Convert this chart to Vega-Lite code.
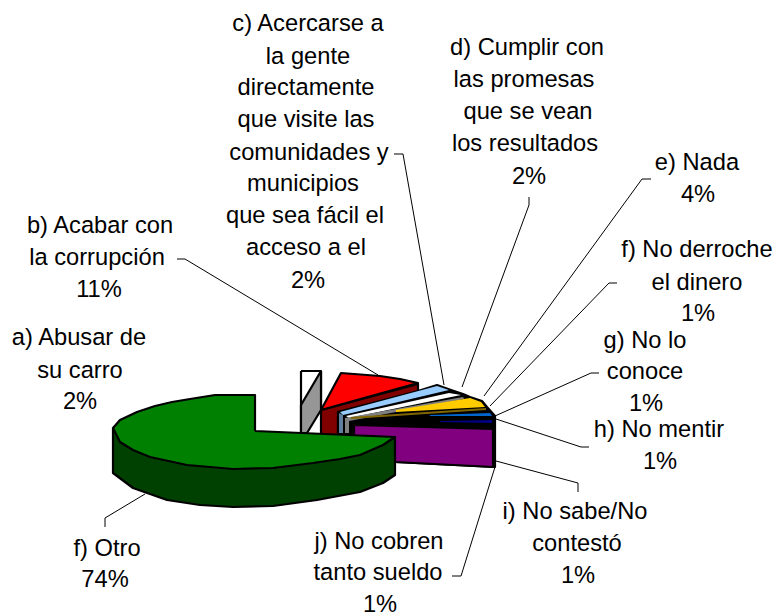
{
"$schema":"https://vega.github.io/schema/vega-lite/v6.json",
"width":777,"height":613,"padding":0,"autosize":{"type":"none"},
"background":"white","view":{"stroke":null},
"datasets":{
"leaders":[
{"id":"b","i":1,"x":177,"y":259},{"id":"b","i":2,"x":185,"y":259},{"id":"b","i":3,"x":378,"y":375},
{"id":"c","i":1,"x":394,"y":154},{"id":"c","i":2,"x":403,"y":154},{"id":"c","i":3,"x":444,"y":385},
{"id":"d","i":1,"x":529,"y":197},{"id":"d","i":2,"x":529,"y":205},{"id":"d","i":3,"x":462,"y":387},
{"id":"e","i":1,"x":651,"y":179},{"id":"e","i":2,"x":642,"y":179},{"id":"e","i":3,"x":484,"y":396},
{"id":"f","i":1,"x":617,"y":283},{"id":"f","i":2,"x":609,"y":283},{"id":"f","i":3,"x":490,"y":406},
{"id":"g","i":1,"x":599,"y":373},{"id":"g","i":2,"x":591,"y":373},{"id":"g","i":3,"x":495,"y":416},
{"id":"h","i":1,"x":589,"y":447},{"id":"h","i":2,"x":581,"y":447},{"id":"h","i":3,"x":496,"y":419},
{"id":"i","i":1,"x":496,"y":461},{"id":"i","i":2,"x":578,"y":483},{"id":"i","i":3,"x":578,"y":492},
{"id":"j","i":1,"x":495,"y":467},{"id":"j","i":2,"x":461,"y":576},{"id":"j","i":3,"x":452,"y":576},
{"id":"o","i":1,"x":145,"y":494},{"id":"o","i":2,"x":105,"y":518},{"id":"o","i":3,"x":105,"y":527}
],
"back":[
{"p":"aw","i":1,"x":301,"y":371},{"p":"aw","i":2,"x":321,"y":371},{"p":"aw","i":3,"x":321,"y":410},{"p":"aw","i":4,"x":301,"y":433},{"p":"aw","i":5,"x":301,"y":371},
{"p":"ag","i":1,"x":321,"y":371},{"p":"ag","i":2,"x":301,"y":405},{"p":"ag","i":3,"x":301,"y":433},{"p":"ag","i":4,"x":307,"y":433},{"p":"ag","i":5,"x":321,"y":410},{"p":"ag","i":6,"x":321,"y":371},
{"p":"rd","i":1,"x":321,"y":410},{"p":"rd","i":2,"x":418,"y":384},{"p":"rd","i":3,"x":418,"y":392},{"p":"rd","i":4,"x":338,"y":412},{"p":"rd","i":5,"x":338,"y":435},{"p":"rd","i":6,"x":321,"y":435},{"p":"rd","i":7,"x":321,"y":410},
{"p":"rt","i":1,"x":321,"y":410},{"p":"rt","i":2,"x":341,"y":373},{"p":"rt","i":3,"x":380,"y":376},{"p":"rt","i":4,"x":400,"y":379},{"p":"rt","i":5,"x":418,"y":383},{"p":"rt","i":6,"x":321,"y":410},
{"p":"bk","i":1,"x":338,"y":412},{"p":"bk","i":2,"x":418,"y":391},{"p":"bk","i":3,"x":437,"y":385},{"p":"bk","i":4,"x":451,"y":390},{"p":"bk","i":5,"x":463,"y":394},{"p":"bk","i":6,"x":470,"y":397},{"p":"bk","i":7,"x":482,"y":401},{"p":"bk","i":8,"x":487,"y":407},{"p":"bk","i":9,"x":495,"y":416},{"p":"bk","i":10,"x":495,"y":467},{"p":"bk","i":11,"x":395,"y":462},{"p":"bk","i":12,"x":395,"y":437},{"p":"bk","i":13,"x":338,"y":435},{"p":"bk","i":14,"x":338,"y":412}
],
"thin":[
{"p":"lb","i":1,"x":340,"y":412},{"p":"lb","i":2,"x":437,"y":386},{"p":"lb","i":3,"x":449,"y":390},{"p":"lb","i":4,"x":343,"y":415},{"p":"lb","i":5,"x":340,"y":412},
{"p":"ls","i":1,"x":339,"y":413},{"p":"ls","i":2,"x":343,"y":415},{"p":"ls","i":3,"x":343,"y":433},{"p":"ls","i":4,"x":339,"y":433},
{"p":"wh","i":1,"x":346,"y":416},{"p":"wh","i":2,"x":449,"y":393},{"p":"wh","i":3,"x":461,"y":395},{"p":"wh","i":4,"x":349,"y":418},
{"p":"gy","i":1,"x":345,"y":418},{"p":"gy","i":2,"x":463,"y":397},{"p":"gy","i":3,"x":464,"y":399},{"p":"gy","i":4,"x":349,"y":421},{"p":"gy","i":5,"x":349,"y":433},{"p":"gy","i":6,"x":345,"y":433},
{"p":"ye","i":1,"x":396,"y":410},{"p":"ye","i":2,"x":470,"y":398},{"p":"ye","i":3,"x":481,"y":402},{"p":"ye","i":4,"x":485,"y":407},{"p":"ye","i":5,"x":396,"y":412},
{"p":"dy","i":1,"x":351,"y":417},{"p":"dy","i":2,"x":486,"y":408},{"p":"dy","i":3,"x":486,"y":410},{"p":"dy","i":4,"x":351,"y":419},
{"p":"bl","i":1,"x":430,"y":415},{"p":"bl","i":2,"x":490,"y":413},{"p":"bl","i":3,"x":492,"y":416},{"p":"bl","i":4,"x":430,"y":416},
{"p":"nv","i":1,"x":440,"y":421},{"p":"nv","i":2,"x":492,"y":420},{"p":"nv","i":3,"x":492,"y":423},{"p":"nv","i":4,"x":440,"y":422}
],
"front":[
{"p":"pu","i":1,"x":354,"y":425},{"p":"pu","i":2,"x":493,"y":429},{"p":"pu","i":3,"x":493,"y":467},{"p":"pu","i":4,"x":395,"y":462},{"p":"pu","i":5,"x":354,"y":445},{"p":"pu","i":6,"x":354,"y":425},
{"p":"gs","i":1,"x":113,"y":428},{"p":"gs","i":2,"x":113,"y":473},{"p":"gs","i":3,"x":133,"y":488},{"p":"gs","i":4,"x":167,"y":500},{"p":"gs","i":5,"x":200,"y":505},{"p":"gs","i":6,"x":233,"y":507},{"p":"gs","i":7,"x":273,"y":506},{"p":"gs","i":8,"x":317,"y":500},{"p":"gs","i":9,"x":360,"y":492},{"p":"gs","i":10,"x":383,"y":483},{"p":"gs","i":11,"x":395,"y":475},{"p":"gs","i":12,"x":395,"y":437},{"p":"gs","i":13,"x":233,"y":450},{"p":"gs","i":14,"x":113,"y":428},
{"p":"gt","i":1,"x":255,"y":431},{"p":"gt","i":2,"x":255,"y":395},{"p":"gt","i":3,"x":215,"y":395},{"p":"gt","i":4,"x":190,"y":399},{"p":"gt","i":5,"x":172,"y":402},{"p":"gt","i":6,"x":155,"y":406},{"p":"gt","i":7,"x":137,"y":412},{"p":"gt","i":8,"x":120,"y":420},{"p":"gt","i":9,"x":113,"y":428},{"p":"gt","i":10,"x":120,"y":442},{"p":"gt","i":11,"x":133,"y":450},{"p":"gt","i":12,"x":150,"y":457},{"p":"gt","i":13,"x":187,"y":465},{"p":"gt","i":14,"x":233,"y":469},{"p":"gt","i":15,"x":273,"y":468},{"p":"gt","i":16,"x":313,"y":463},{"p":"gt","i":17,"x":340,"y":459},{"p":"gt","i":18,"x":360,"y":455},{"p":"gt","i":19,"x":383,"y":445},{"p":"gt","i":20,"x":395,"y":437},{"p":"gt","i":21,"x":255,"y":431}
],
"labels":[
{"t":"c) Acercarse a","x":308,"y":24},{"t":"la gente","x":308,"y":57},{"t":"directamente","x":306,"y":88},{"t":"que visite las","x":306,"y":120},{"t":"comunidades y","x":309,"y":153},{"t":"municipios","x":303,"y":184},{"t":"que sea fácil el","x":305,"y":216},{"t":"acceso a el","x":306,"y":248},{"t":"2%","x":308,"y":281},
{"t":"d) Cumplir con","x":527,"y":48},{"t":"las promesas","x":524,"y":80},{"t":"que se vean","x":528,"y":112},{"t":"los resultados","x":525,"y":144},{"t":"2%","x":529,"y":177},
{"t":"e) Nada","x":697,"y":163},{"t":"4%","x":698,"y":195},
{"t":"f) No derroche","x":697,"y":250},{"t":"el dinero","x":697,"y":283},{"t":"1%","x":698,"y":314},
{"t":"g) No lo","x":645,"y":341},{"t":"conoce","x":645,"y":372},{"t":"1%","x":646,"y":404},
{"t":"h) No mentir","x":659,"y":430},{"t":"1%","x":660,"y":462},
{"t":"i) No sabe/No","x":575,"y":512},{"t":"contestó","x":577,"y":544},{"t":"1%","x":578,"y":576},
{"t":"j) No cobren","x":379,"y":542},{"t":"tanto sueldo","x":378,"y":573},{"t":"1%","x":380,"y":605},
{"t":"f) Otro","x":107,"y":549},{"t":"74%","x":105,"y":580},
{"t":"a) Abusar de","x":79,"y":338},{"t":"su carro","x":80,"y":371},{"t":"2%","x":80,"y":402},
{"t":"b) Acabar con","x":100,"y":226},{"t":"la corrupción","x":97,"y":258},{"t":"11%","x":99,"y":290}
]
},
"encoding":{
"x":{"field":"x","type":"quantitative","scale":{"domain":[0,777],"nice":false,"zero":false},"axis":null},
"y":{"field":"y","type":"quantitative","scale":{"domain":[613,0],"nice":false,"zero":false},"axis":null}
},
"layer":[
{"data":{"name":"leaders"},"mark":{"type":"line","stroke":"black","strokeWidth":1,"interpolate":"linear"},"encoding":{"detail":{"field":"id"},"order":{"field":"i","type":"quantitative"}}},
{"data":{"name":"back"},"mark":{"type":"line","filled":true,"stroke":"black","strokeWidth":2.2,"strokeJoin":"round"},"encoding":{"color":{"field":"p","type":"nominal","legend":null,"scale":{"domain":["aw","ag","rd","rt","bk","lb","ls","wh","gy","ye","dy","bl","nv","pu","gs","gt"],"range":["#ffffff","#969696","#800000","#ff0000","#000000","#99ccff","#5f7f9f","#ffffff","#808080","#ffcc00","#806600","#0066cc","#000080","#800080","#004000","#008000"]}},"order":{"field":"i","type":"quantitative"}}},
{"data":{"name":"thin"},"mark":{"type":"line","filled":true,"strokeWidth":0},"encoding":{"color":{"field":"p","type":"nominal","legend":null,"scale":{"domain":["aw","ag","rd","rt","bk","lb","ls","wh","gy","ye","dy","bl","nv","pu","gs","gt"],"range":["#ffffff","#969696","#800000","#ff0000","#000000","#99ccff","#5f7f9f","#ffffff","#808080","#ffcc00","#806600","#0066cc","#000080","#800080","#004000","#008000"]}},"order":{"field":"i","type":"quantitative"}}},
{"data":{"name":"front"},"mark":{"type":"line","filled":true,"stroke":"black","strokeWidth":2.2,"strokeJoin":"round"},"encoding":{"color":{"field":"p","type":"nominal","legend":null,"scale":{"domain":["aw","ag","rd","rt","bk","lb","ls","wh","gy","ye","dy","bl","nv","pu","gs","gt"],"range":["#ffffff","#969696","#800000","#ff0000","#000000","#99ccff","#5f7f9f","#ffffff","#808080","#ffcc00","#806600","#0066cc","#000080","#800080","#004000","#008000"]}},"order":{"field":"i","type":"quantitative"}}},
{"data":{"name":"labels"},"mark":{"type":"text","font":"Liberation Sans","fontSize":23.7,"align":"center","baseline":"middle","color":"black"},"encoding":{"text":{"field":"t"}}}
]
}
